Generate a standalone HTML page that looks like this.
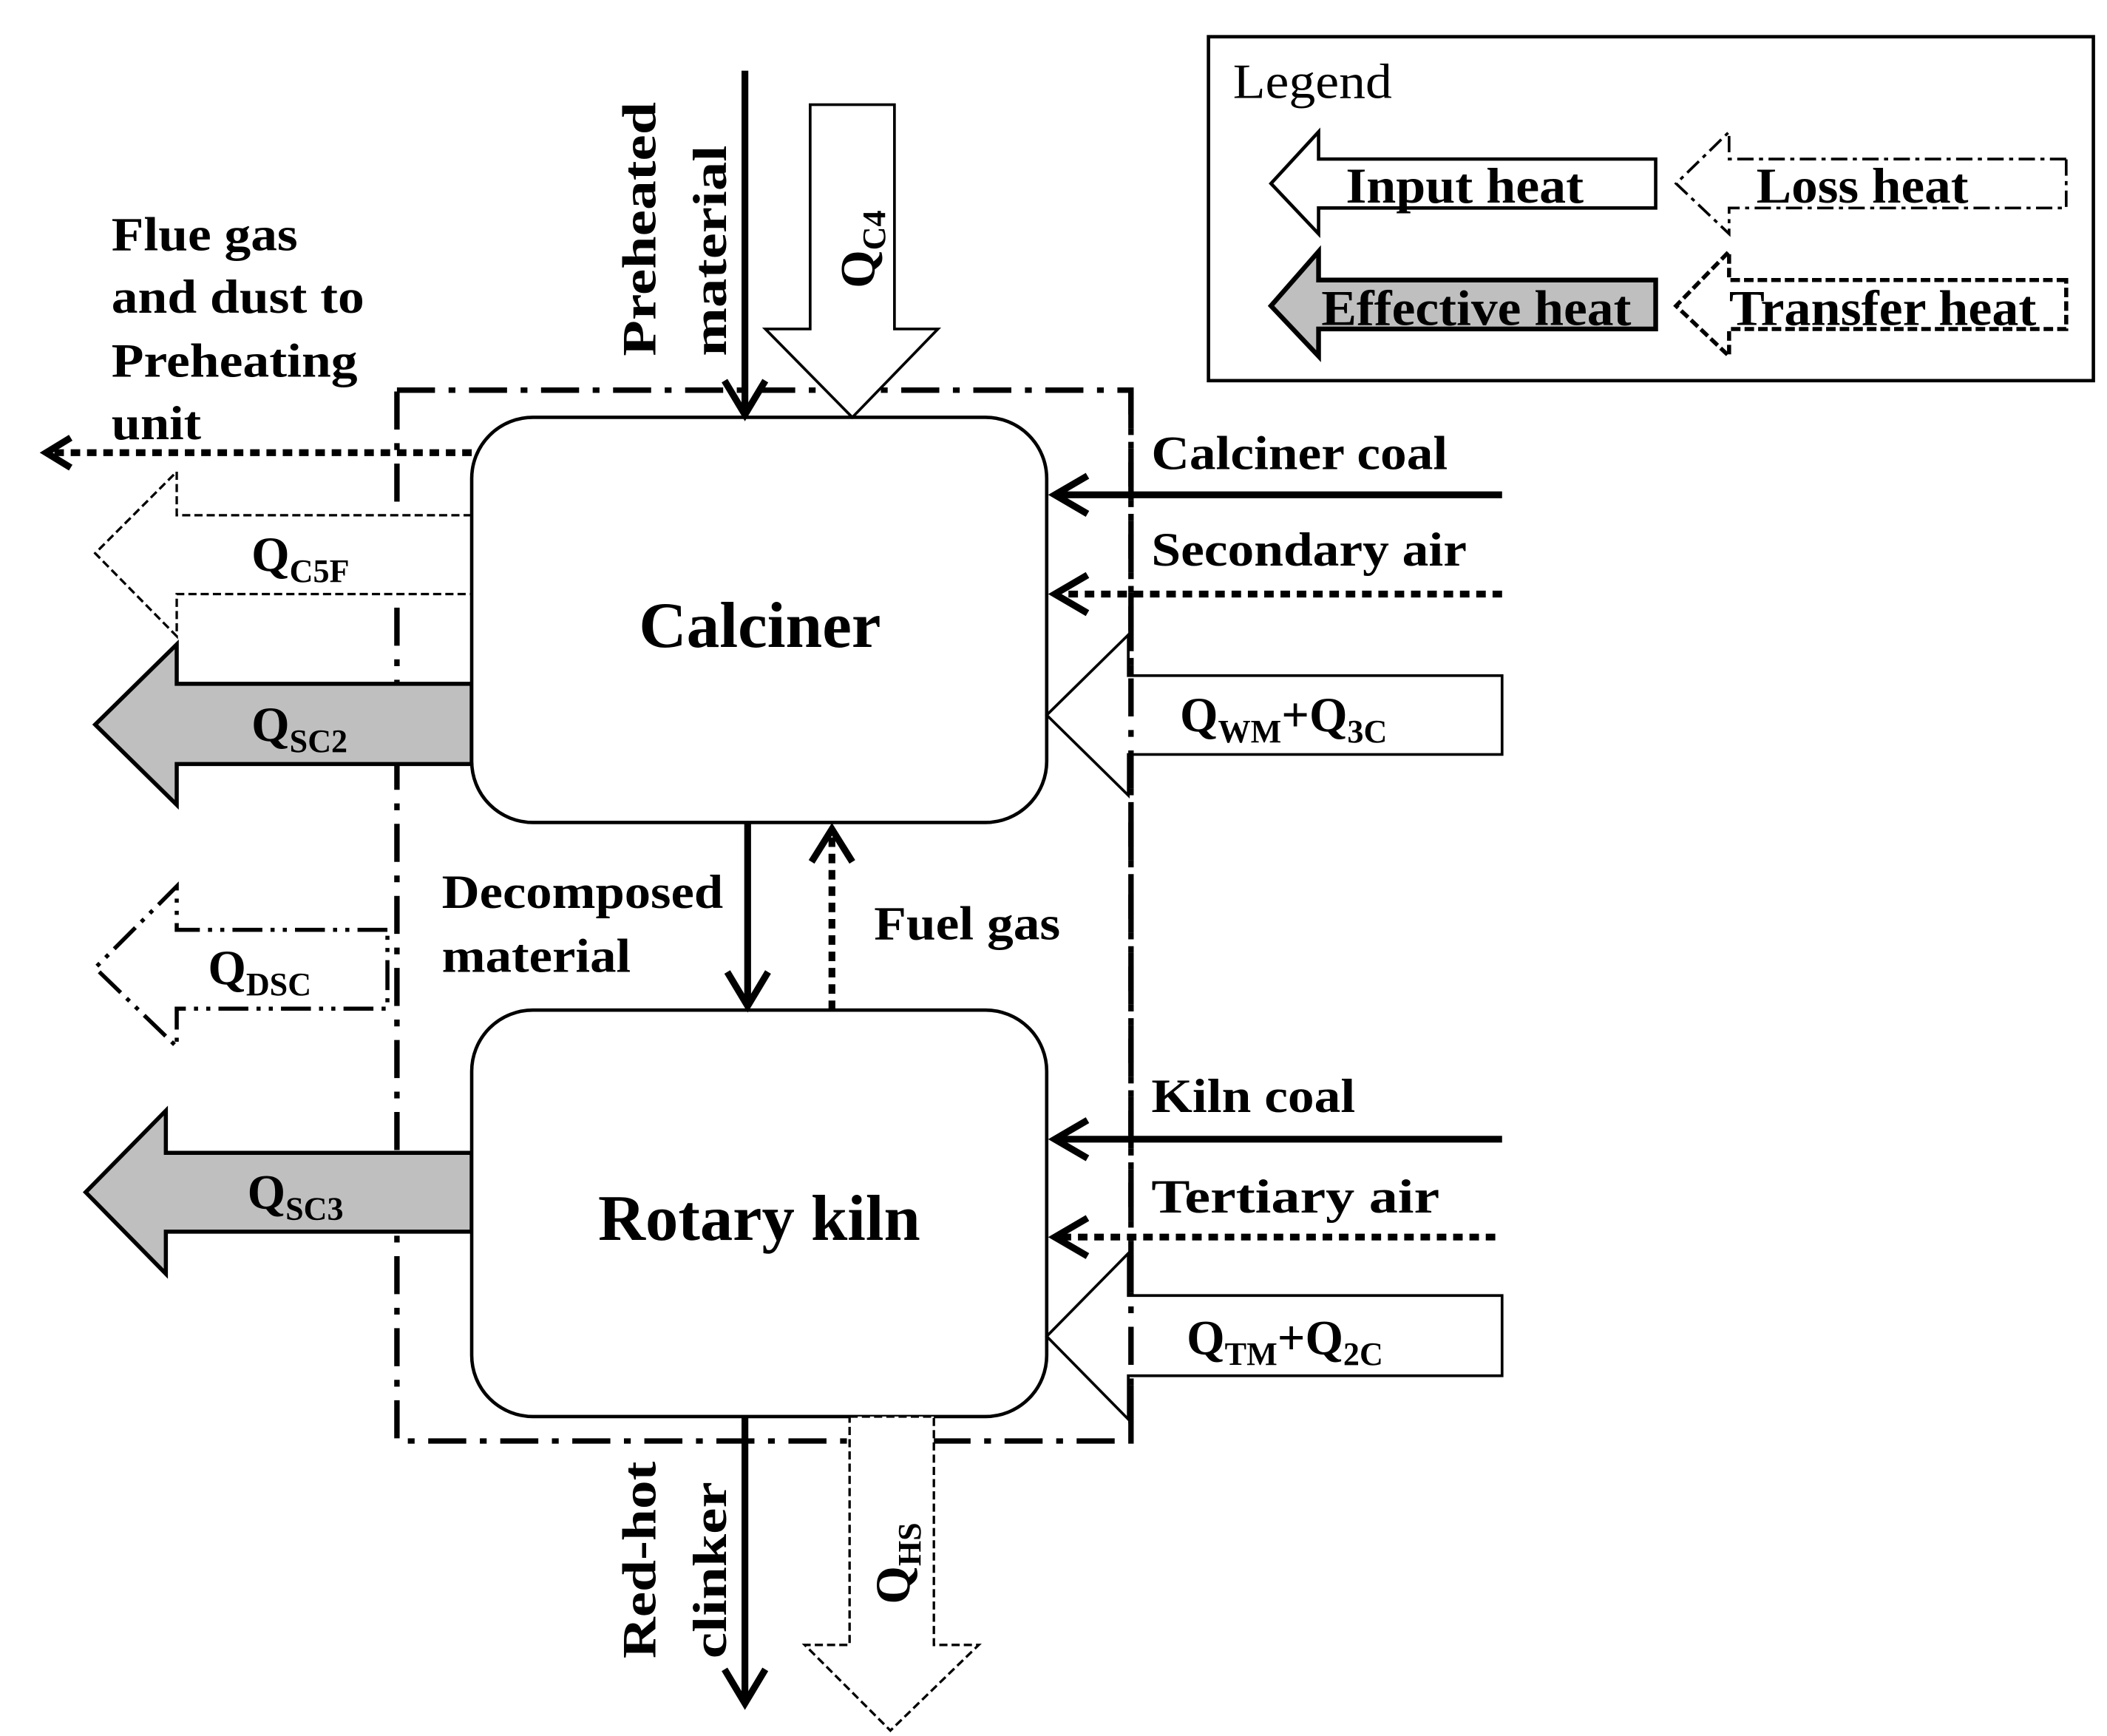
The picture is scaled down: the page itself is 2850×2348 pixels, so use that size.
<!DOCTYPE html>
<html><head><meta charset="utf-8"><style>html,body{margin:0;padding:0;background:#fff}svg{display:block}text{font-family:"Liberation Serif",serif;font-weight:bold;fill:#000}</style></head>
<body>
<svg width="2850" height="2348" viewBox="0 0 1550 1277" xmlns="http://www.w3.org/2000/svg">
<rect width="1550" height="1277" fill="#fff"/>
<rect x="292" y="287" width="540" height="773" fill="none" stroke="#000" stroke-width="4" stroke-dasharray="28,10,5,10"/>
<polygon points="347,379 130,379 130,347 70,407 130,468 130,437 347,437" fill="#fff" stroke="#000" stroke-width="1.8" stroke-dasharray="6,3"/>
<polygon points="347,503 130,503 130,474 70,533 130,592 130,562 347,562" fill="#bfbfbf" stroke="#000" stroke-width="3"/>
<polygon points="285,684 130,684 130,652 70,712 130,770 130,742 285,742" fill="#fff" stroke="#000" stroke-width="3" stroke-dasharray="22,6,3,6,3,6"/>
<polygon points="347,848 122,848 122,817 63,877 122,937 122,906 347,906" fill="#bfbfbf" stroke="#000" stroke-width="3"/>
<rect x="347" y="307" width="423" height="298" rx="45" fill="#fff" stroke="#000" stroke-width="2.5"/>
<rect x="347" y="743" width="423" height="299" rx="45" fill="#fff" stroke="#000" stroke-width="2.5"/>
<line x1="548" y1="52" x2="548" y2="302" stroke="#000" stroke-width="5"/>
<polyline points="533,280 548,305 563,280" fill="none" stroke="#000" stroke-width="5"/>
<polygon points="596,77 658,77 658,242 690,242 627,307 563,242 596,242" fill="#fff" stroke="#000" stroke-width="2"/>
<line x1="347" y1="333" x2="36" y2="333" stroke="#000" stroke-width="5" stroke-dasharray="7,5"/>
<polyline points="52,322 34,333 52,344" fill="none" stroke="#000" stroke-width="5"/>
<line x1="550" y1="605" x2="550" y2="738" stroke="#000" stroke-width="5"/>
<polyline points="535,715 550,740 565,715" fill="none" stroke="#000" stroke-width="5"/>
<line x1="612" y1="743" x2="612" y2="612" stroke="#000" stroke-width="5" stroke-dasharray="7,5"/>
<polyline points="597,634 612,610 627,634" fill="none" stroke="#000" stroke-width="5"/>
<line x1="1105" y1="364" x2="777" y2="364" stroke="#000" stroke-width="5"/>
<polyline points="800,350 776,364 800,378" fill="none" stroke="#000" stroke-width="5"/>
<line x1="1105" y1="437" x2="777" y2="437" stroke="#000" stroke-width="5" stroke-dasharray="7,5"/>
<polyline points="800,423 776,437 800,451" fill="none" stroke="#000" stroke-width="5"/>
<polygon points="1105,497 830,497 830,467 770,526 830,585 830,555 1105,555" fill="#fff" stroke="#000" stroke-width="2"/>
<line x1="1105" y1="838" x2="777" y2="838" stroke="#000" stroke-width="5"/>
<polyline points="800,824 776,838 800,852" fill="none" stroke="#000" stroke-width="5"/>
<line x1="1100" y1="910" x2="777" y2="910" stroke="#000" stroke-width="5" stroke-dasharray="7,5"/>
<polyline points="800,896 776,910 800,924" fill="none" stroke="#000" stroke-width="5"/>
<polygon points="1105,953 830,953 830,922 770,983 830,1044 830,1012 1105,1012" fill="#fff" stroke="#000" stroke-width="2"/>
<line x1="832" y1="287" x2="832" y2="1060" stroke="#000" stroke-width="4" stroke-dasharray="28,10,5,10"/>
<line x1="548" y1="1042" x2="548" y2="1250" stroke="#000" stroke-width="5"/>
<polyline points="533,1228 548,1253 563,1228" fill="none" stroke="#000" stroke-width="5"/>
<polygon points="625,1042 687,1042 687,1210 720,1210 655,1273 592,1210 625,1210" fill="#fff" stroke="#000" stroke-width="1.8" stroke-dasharray="6,3"/>
<g font-size="35">
<text x="82" y="184" textLength="137" lengthAdjust="spacingAndGlyphs">Flue gas</text>
<text x="82" y="230" textLength="186" lengthAdjust="spacingAndGlyphs">and dust to</text>
<text x="82" y="277" textLength="181" lengthAdjust="spacingAndGlyphs">Preheating</text>
<text x="82" y="323" textLength="66" lengthAdjust="spacingAndGlyphs">unit</text>
<text x="325" y="668" textLength="207" lengthAdjust="spacingAndGlyphs">Decomposed</text>
<text x="325" y="715" textLength="139" lengthAdjust="spacingAndGlyphs">material</text>
<text x="643" y="691" textLength="137" lengthAdjust="spacingAndGlyphs">Fuel gas</text>
<text x="847" y="345" textLength="218" lengthAdjust="spacingAndGlyphs">Calciner coal</text>
<text x="847" y="416" textLength="232" lengthAdjust="spacingAndGlyphs">Secondary air</text>
<text x="847" y="818" textLength="150" lengthAdjust="spacingAndGlyphs">Kiln coal</text>
<text x="847" y="892" textLength="212" lengthAdjust="spacingAndGlyphs">Tertiary air</text>
<text transform="translate(482,262) rotate(-90)" textLength="187" lengthAdjust="spacingAndGlyphs">Preheated</text>
<text transform="translate(534,262) rotate(-90)" textLength="155" lengthAdjust="spacingAndGlyphs">material</text>
<text transform="translate(482,1220) rotate(-90)" textLength="145" lengthAdjust="spacingAndGlyphs">Red-hot</text>
<text transform="translate(534,1220) rotate(-90)" textLength="130" lengthAdjust="spacingAndGlyphs">clinker</text>
</g>
<g font-size="36">
<text x="185" y="420">Q<tspan font-size="24" dy="8">C5F</tspan></text>
<text x="185" y="545">Q<tspan font-size="24" dy="8">SC2</tspan></text>
<text x="153" y="724">Q<tspan font-size="24" dy="8">DSC</tspan></text>
<text x="182" y="889">Q<tspan font-size="24" dy="8">SC3</tspan></text>
<text x="868" y="538">Q<tspan font-size="24" dy="8">WM</tspan><tspan dy="-8">+Q</tspan><tspan font-size="24" dy="8">3C</tspan></text>
<text x="873" y="996">Q<tspan font-size="24" dy="8">TM</tspan><tspan dy="-8">+Q</tspan><tspan font-size="24" dy="8">2C</tspan></text>
<text transform="translate(643,212) rotate(-90)">Q<tspan font-size="24" dy="8">C4</tspan></text>
<text transform="translate(669,1180) rotate(-90)">Q<tspan font-size="24" dy="8">HS</tspan></text>
</g>
<text x="470" y="476" font-size="48" textLength="178" lengthAdjust="spacingAndGlyphs">Calciner</text>
<text x="440" y="912" font-size="48" textLength="237" lengthAdjust="spacingAndGlyphs">Rotary kiln</text>
<rect x="889" y="27" width="651" height="253" fill="#fff" stroke="#000" stroke-width="2.5"/>
<text x="907" y="72" font-size="36" style="font-weight:normal" textLength="117" lengthAdjust="spacingAndGlyphs">Legend</text>
<polygon points="1218,117 970,117 970,97 935,135 970,172 970,153 1218,153" fill="#fff" stroke="#000" stroke-width="2.5"/>
<polygon points="1520,117 1272,117 1272,97 1233,135 1272,172 1272,153 1520,153" fill="#fff" stroke="#000" stroke-width="2" stroke-dasharray="12,4,3,4"/>
<polygon points="1218,206 970,206 970,185 935,225 970,262 970,242 1218,242" fill="#bfbfbf" stroke="#000" stroke-width="3.5"/>
<polygon points="1520,206 1272,206 1272,185 1233,225 1272,262 1272,242 1520,242" fill="#fff" stroke="#000" stroke-width="3" stroke-dasharray="7,3"/>
<g font-size="37">
<text x="990" y="149" textLength="175" lengthAdjust="spacingAndGlyphs">Input heat</text>
<text x="1292" y="149" textLength="156" lengthAdjust="spacingAndGlyphs">Loss heat</text>
<text x="972" y="239" textLength="228" lengthAdjust="spacingAndGlyphs">Effective heat</text>
<text x="1272" y="239" textLength="226" lengthAdjust="spacingAndGlyphs">Transfer heat</text>
</g>
</svg>
</body></html>
